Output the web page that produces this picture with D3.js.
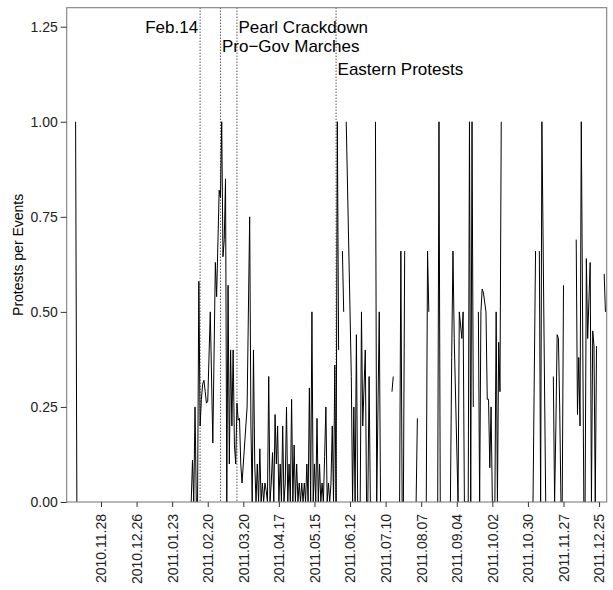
<!DOCTYPE html>
<html>
<head>
<meta charset="utf-8">
<script src="https://cdn.jsdelivr.net/npm/d3@7"></script>
<style>
  body { margin: 0; background: #fff; }
  svg { display: block; font-family: "Liberation Sans", Arial, Helvetica, sans-serif; }
</style>
</head>
<body>
<svg id="chart" width="613" height="590"></svg>
<script>
// Daily share of protest events among all events; null marks days without events (line breaks there)
const obsDates = [
  "2010-11-08","2010-11-09","2010-11-10",
  "2011-02-07","2011-02-08","2011-02-09","2011-02-10","2011-02-11","2011-02-12","2011-02-13","2011-02-14","2011-02-15","2011-02-16",
  "2011-02-17","2011-02-18","2011-02-19","2011-02-20","2011-02-22","2011-02-24","2011-02-26","2011-02-27","2011-03-01","2011-03-02",
  "2011-03-03","2011-03-04","2011-03-05","2011-03-06","2011-03-07","2011-03-08","2011-03-09","2011-03-10","2011-03-11","2011-03-12",
  "2011-03-13","2011-03-14","2011-03-15","2011-03-16","2011-03-17","2011-03-18","2011-03-19","2011-03-23","2011-03-25","2011-03-26",
  "2011-03-27","2011-03-28","2011-03-29","2011-03-30","2011-03-31",
  "2011-04-01","2011-04-02","2011-04-03","2011-04-04","2011-04-05","2011-04-06","2011-04-07","2011-04-08","2011-04-09","2011-04-10",
  "2011-04-11","2011-04-12","2011-04-13","2011-04-14","2011-04-15","2011-04-16","2011-04-17","2011-04-18","2011-04-19","2011-04-20",
  "2011-04-21","2011-04-22","2011-04-23","2011-04-24","2011-04-25","2011-04-26","2011-04-27","2011-04-28","2011-04-29","2011-04-30",
  "2011-05-01","2011-05-02","2011-05-03","2011-05-04","2011-05-05","2011-05-06","2011-05-07","2011-05-08","2011-05-09","2011-05-10",
  "2011-05-11","2011-05-12","2011-05-13","2011-05-14","2011-05-15","2011-05-16","2011-05-17","2011-05-18","2011-05-19","2011-05-20",
  "2011-05-21","2011-05-22","2011-05-23","2011-05-24","2011-05-25","2011-05-26","2011-05-27","2011-05-28","2011-05-29","2011-05-30","2011-05-31",
  "2011-06-01","2011-06-02","2011-06-03","2011-06-04","2011-06-06","2011-06-07","2011-06-08","2011-06-09","2011-06-12","2011-06-13",
  "2011-06-14","2011-06-15","2011-06-16","2011-06-17","2011-06-18","2011-06-20","2011-06-21","2011-06-22","2011-06-24","2011-06-25",
  "2011-06-26","2011-06-27","2011-06-28","2011-06-29","2011-06-30",
  "2011-07-02","2011-07-03","2011-07-05","2011-07-06","2011-07-07","2011-07-15","2011-07-16","2011-07-17",
  "2011-07-21","2011-07-22","2011-07-23","2011-07-24","2011-07-25","2011-07-26",
  "2011-08-03","2011-08-04","2011-08-05","2011-08-11","2011-08-12","2011-08-13","2011-08-14",
  "2011-08-20","2011-08-21","2011-08-22","2011-08-23","2011-08-30","2011-08-31",
  "2011-09-01","2011-09-02","2011-09-05","2011-09-06","2011-09-08","2011-09-09","2011-09-10","2011-09-13","2011-09-14","2011-09-15",
  "2011-09-16","2011-09-17","2011-09-18","2011-09-21","2011-09-22","2011-09-23","2011-09-24","2011-09-25","2011-09-27","2011-09-28",
  "2011-09-29","2011-09-30",
  "2011-10-01","2011-10-02","2011-10-03","2011-10-04","2011-10-05","2011-10-06","2011-10-07","2011-10-08","2011-10-09","2011-10-10",
  "2011-11-03","2011-11-05","2011-11-06","2011-11-08","2011-11-09","2011-11-10","2011-11-13","2011-11-14",
  "2011-11-19","2011-11-20","2011-11-21","2011-11-22","2011-11-23","2011-11-24","2011-11-25","2011-11-26","2011-11-27","2011-11-28",
  "2011-12-07","2011-12-08","2011-12-09","2011-12-10","2011-12-11","2011-12-13","2011-12-14","2011-12-15","2011-12-16","2011-12-18",
  "2011-12-19","2011-12-20","2011-12-21","2011-12-22","2011-12-23","2011-12-24","2011-12-29","2011-12-30"
];
const obsRatio = [
  1, 0, null,
  0, 0.11, 0, 0.25, 0, 0, 0.58, 0.2, 0.27, 0.31,
  0.32, 0.29, 0.26, 0.265, 0.5, 0.155, 0.63, 0.54, 0.82, 0.8,
  1, 0.645, 0.69, 0.85, 0, 0.57, 0.1, 0.4, 0.2, 0.4,
  0.15, 0.1, 0.26, 0.215, 0.22, 0.1, 0.05, 0.25, 0.75, 0.2,
  0, 0.4, 0.1, 0, 0.1,
  0, 0.14, 0, 0.05, 0, 0.05, 0.03, 0, 0.33, 0,
  0.05, 0.13, 0, 0.23, 0.1, 0.2, 0, 0.1, 0, 0.2,
  0, 0.05, 0.25, 0, 0.1, 0, 0.27, 0, 0.15, 0,
  0.1, 0, 0.05, 0, 0.05, 0, 0.05, 0, 0.1, 0,
  0.3, 0, 0.5, 0, 0.1, 0, 0.22, 0, 0.1, 0,
  0.05, 0, 0.12, 0.25, 0, 0.05, 0, 0.05, 0.2, 0, 0.36,
  0, 1, 0.4, null, 0.66, 0.5, null, 1, 0.5, 0.33,
  0, 0.25, 0, 0.44, 0, 0, 0.5, 0.2, 0.4, 0,
  0, 0.33, 0, 0, null,
  1, 0, 0.5, 0, null, 0.29, 0.33, null,
  0, 0.66, 0, 0, 0.66, null,
  0, 0.22, null, 0, 0.66, 0.5, null,
  0, 1, 0, null, 0, 0.38,
  0.66, 0.43, 0, 0.5, 0.43, 0.5, 0, 0, 1, 0,
  1, 0.25, null, 0.5, 0, 0.5, 0.56, 0.55, 0.5, 0.27,
  0.27, 0.09,
  0.25, 0, 0, 0, 0.5, 0, 0.42, 0.29, 1, null,
  0, 0.66, null, 0.66, 0, 1, 0, null,
  0.33, 0, 0.2, 0.44, 0.43, 0.25, 0, 0, 0.57, null,
  0.69, 0.23, 0.38, 0.2, 1, 0, 0, 0.64, 0.43, 0.63,
  0, 0.45, 0.41, 0, 0.41, null, 0.6, 0.5
];

// Key events marked with dotted lines
const eventDates  = ["2011-02-14", "2011-03-02", "2011-03-15", "2011-06-01"];
const eventLabels = ["Feb.14", "Pro\u2212Gov Marches", "Pearl Crackdown", "Eastern Protests"];
const eventLevels = [1.25, 1.2, 1.25, 1.14];

const dateSpan  = ["2010-11-01", "2011-12-31"];
const xTickDates = ["2010-11-28","2010-12-26","2011-01-23","2011-02-20","2011-03-20","2011-04-17","2011-05-15",
                    "2011-06-12","2011-07-10","2011-08-07","2011-09-04","2011-10-02","2011-10-30","2011-11-27","2011-12-25"];
const yTicks = [0, 0.25, 0.5, 0.75, 1, 1.25];
const yMax = 1.3;

const parse = d3.utcParse("%Y-%m-%d");
const fmt = d3.utcFormat("%Y.%m.%d");

const panel = { left: 66.7, right: 606.7, top: 7.7, bottom: 502 };

const svg = d3.select("#chart");

const x = d3.scaleUtc()
  .domain(dateSpan.map(parse))
  .range([panel.left, panel.right]);
const y = d3.scaleLinear()
  .domain([0, yMax])
  .range([panel.bottom, panel.top]);

const series = obsDates.map((d, i) => ({ date: parse(d), v: obsRatio[i] }));

svg.append("defs").append("clipPath").attr("id", "clip")
  .append("rect")
  .attr("x", panel.left).attr("y", panel.top)
  .attr("width", panel.right - panel.left).attr("height", panel.bottom - panel.top);

const plot = svg.append("g").attr("clip-path", "url(#clip)");

// event markers
plot.selectAll("line.event")
  .data(eventDates)
  .join("line")
  .attr("class", "event")
  .attr("x1", d => x(parse(d))).attr("x2", d => x(parse(d)))
  .attr("y1", panel.top).attr("y2", panel.bottom)
  .attr("stroke", "#000")
  .attr("stroke-width", 1)
  .attr("stroke-dasharray", "1,2");

// protest ratio line
const line = d3.line()
  .defined(d => d.v !== null)
  .x(d => x(d.date))
  .y(d => y(d.v));

plot.append("path")
  .datum(series)
  .attr("d", line)
  .attr("fill", "none")
  .attr("stroke", "#000")
  .attr("stroke-width", 1)
  .attr("stroke-linejoin", "round");

// event labels: the first sits left of its line, the rest to the right
svg.selectAll("text.event")
  .data(eventDates)
  .join("text")
  .attr("class", "event")
  .attr("x", (d, i) => x(parse(d)) + (i === 0 ? -2 : 1.5))
  .attr("y", (d, i) => y(eventLevels[i]))
  .attr("dy", "0.36em")
  .attr("text-anchor", (d, i) => i === 0 ? "end" : "start")
  .attr("font-size", 17)
  .attr("fill", "#000")
  .text((d, i) => eventLabels[i]);

// panel border
svg.append("rect")
  .attr("x", panel.left).attr("y", panel.top)
  .attr("width", panel.right - panel.left).attr("height", panel.bottom - panel.top)
  .attr("fill", "none")
  .attr("stroke", "#7f7f7f")
  .attr("stroke-width", 1.1);

// y axis
const yAxis = svg.append("g")
  .attr("transform", `translate(${panel.left},0)`)
  .call(d3.axisLeft(y).tickValues(yTicks).tickFormat(d3.format(".2f")).tickSize(6).tickPadding(3));
yAxis.select(".domain").remove();
yAxis.selectAll("line").attr("stroke", "#333");
yAxis.selectAll("text").attr("font-size", 14).attr("fill", "#222").attr("font-family", null);

// x axis with vertical labels
const xAxis = svg.append("g")
  .attr("transform", `translate(0,${panel.bottom})`)
  .call(d3.axisBottom(x).tickValues(xTickDates.map(parse)).tickFormat(fmt).tickSize(5));
xAxis.select(".domain").remove();
xAxis.selectAll("line").attr("stroke", "#333");
xAxis.selectAll("text")
  .attr("transform", "rotate(-90)")
  .attr("text-anchor", "end")
  .attr("x", -12)
  .attr("y", 0)
  .attr("dy", "0.35em")
  .attr("font-size", 14)
  .attr("fill", "#222")
  .attr("font-family", null);

// y axis title
svg.append("text")
  .attr("transform", `translate(18,${(panel.top + panel.bottom) / 2}) rotate(-90)`)
  .attr("text-anchor", "middle")
  .attr("dy", "0.35em")
  .attr("font-size", 14)
  .attr("fill", "#000")
  .text("Protests per Events");
</script>
</body>
</html>
